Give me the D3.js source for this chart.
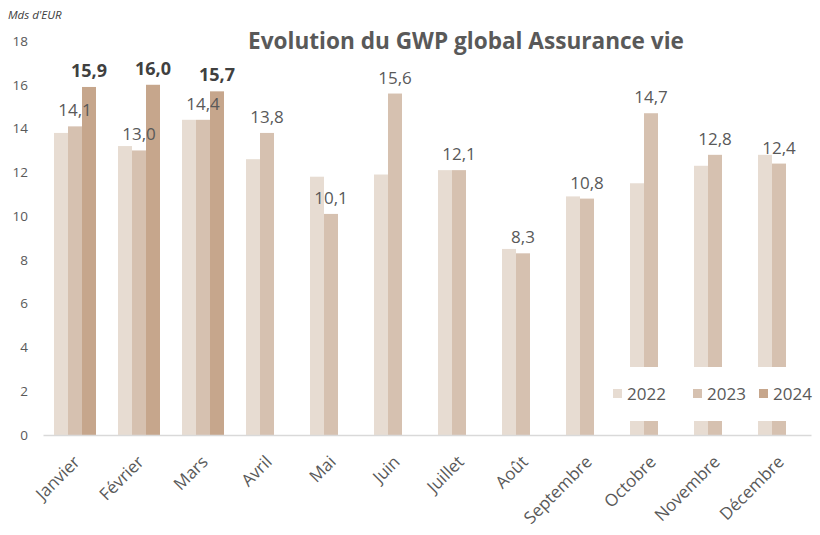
<!DOCTYPE html>
<html>
<head>
<meta charset="utf-8">
<script src="https://cdn.jsdelivr.net/npm/d3@7"></script>
<style>
  html, body { margin: 0; padding: 0; background: #ffffff; }
  svg { display: block; }
  text { font-family: "Open Sans", "Noto Sans", sans-serif; }
</style>
</head>
<body>
<svg id="chart" width="820" height="535"></svg>
<script>
// ---- data ----
const months = ["Janvier", "Février", "Mars", "Avril", "Mai", "Juin", "Juillet", "Août", "Septembre", "Octobre", "Novembre", "Décembre"];
const seriesNames = ["2022", "2023", "2024"];
const values2022 = [13.8, 13.2, 14.4, 12.6, 11.8, 11.9, 12.1, 8.5, 10.9, 11.5, 12.3, 12.8];
const values2023 = [14.1, 13.0, 14.4, 13.8, 10.1, 15.6, 12.1, 8.3, 10.8, 14.7, 12.8, 12.4];
const values2024 = [15.9, 16.0, 15.7, null, null, null, null, null, null, null, null, null];
const yTicks = [0, 2, 4, 6, 8, 10, 12, 14, 16, 18];
const colors = ["#e7dcd2", "#d6c1b0", "#c6a68c"];
const title = "Evolution du GWP global Assurance vie";
const unitLabel = "Mds d'EUR";

const seriesValues = [values2022, values2023, values2024];
const data = months.map((m, i) => ({
  month: m,
  vals: seriesNames.map((s, j) => ({ series: s, idx: j, value: seriesValues[j][i] }))
}));

const svg = d3.select("#chart");
const plotLeft = 43, plotRight = 811, plotTop = 41, plotBottom = 435;

const x0 = d3.scaleBand().domain(months).range([plotLeft, plotRight])
  .paddingInner(22 / 64).paddingOuter(11 / 64);
const x1 = d3.scaleBand().domain(seriesNames).range([0, x0.bandwidth()]);
const y = d3.scaleLinear().domain([0, 18]).range([plotBottom, plotTop]);

// title
svg.append("text")
  .attr("x", 466).attr("y", 49)
  .attr("text-anchor", "middle")
  .attr("font-size", 22.6).attr("font-weight", "bold")
  .attr("fill", "#595959")
  .text(title);

// unit label
svg.append("text")
  .attr("x", 8).attr("y", 19)
  .attr("font-size", 11.5).attr("font-style", "italic")
  .attr("fill", "#404040")
  .text(unitLabel);

// y axis (labels only)
const yAxis = d3.axisLeft(y).tickValues(yTicks).tickSize(0).tickPadding(0).tickFormat(d3.format("d"));
const gy = svg.append("g").attr("transform", `translate(28,0)`).call(yAxis);
gy.select(".domain").remove();
gy.selectAll("text").attr("font-size", 13.5).attr("fill", "#595959")
  .attr("font-family", "'Open Sans', sans-serif");

// bars
const groups = svg.append("g").selectAll("g").data(data).join("g")
  .attr("transform", d => `translate(${x0(d.month)},0)`);

groups.selectAll("rect").data(d => d.vals.filter(v => v.value != null)).join("rect")
  .attr("x", d => x1(d.series))
  .attr("y", d => y(d.value))
  .attr("width", x1.bandwidth())
  .attr("height", d => y(0) - y(d.value))
  .attr("fill", d => colors[d.idx]);

// x axis
const xAxis = d3.axisBottom(x0).tickSize(0).tickPadding(0);
const gx = svg.append("g").attr("transform", `translate(0,${plotBottom})`).call(xAxis);
gx.select(".domain").attr("stroke", "#d9d9d9").attr("stroke-width", 1.5);
gx.selectAll("text")
  .attr("font-size", 17).attr("fill", "#595959")
  .attr("font-family", "'Open Sans', sans-serif")
  .attr("text-anchor", "end")
  .attr("dy", null)
  .attr("transform", "translate(6,28) rotate(-45)");

// data labels 2023
groups.selectAll("text.l23").data(d => d.vals.filter(v => v.idx === 1)).join("text")
  .attr("class", "l23")
  .attr("x", d => x1(d.series) + x1.bandwidth() / 2)
  .attr("y", d => y(d.value) - 10)
  .attr("text-anchor", "middle")
  .attr("font-size", 17).attr("fill", "#595959")
  .text(d => d3.format(".1f")(d.value).replace(".", ","));

// data labels 2024
groups.selectAll("text.l24").data(d => d.vals.filter(v => v.idx === 2 && v.value != null)).join("text")
  .attr("class", "l24")
  .attr("x", d => x1(d.series) + x1.bandwidth() / 2)
  .attr("y", d => y(d.value) - 10)
  .attr("text-anchor", "middle")
  .attr("font-size", 18).attr("font-weight", "bold").attr("fill", "#404040")
  .text(d => d3.format(".1f")(d.value).replace(".", ","));

// legend
const legend = svg.append("g");
legend.append("rect").attr("x", 600).attr("y", 367).attr("width", 215).attr("height", 54).attr("fill", "#ffffff");
const legX = [613, 693, 759];
const li = legend.selectAll("g").data(seriesNames).join("g")
  .attr("transform", (d, i) => `translate(${legX[i]},389)`);
li.append("rect").attr("width", 9).attr("height", 9).attr("fill", (d, i) => colors[i]);
li.append("text").attr("x", 14).attr("y", 11)
  .attr("font-size", 17).attr("fill", "#595959").text(d => d);
</script>
</body>
</html>
